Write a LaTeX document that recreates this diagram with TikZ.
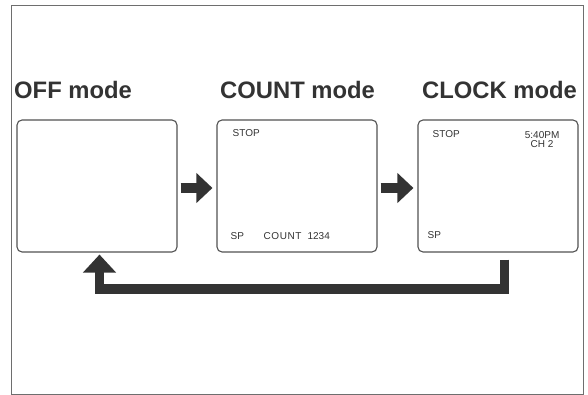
\documentclass[tikz,border=0pt]{standalone}
\usepackage{fontspec}
\setmainfont{Liberation Sans}
\usetikzlibrary{arrows.meta}
\definecolor{ink}{HTML}{333333}
\definecolor{framecol}{HTML}{6E6E6E}
\begin{document}
\begin{tikzpicture}[x=1pt,y=-1pt,
 modebox/.style={draw=ink!85, line width=1.1pt, rounded corners=5pt, minimum width=160pt, minimum height=132pt, inner sep=0pt},
 title/.style={anchor=base west, inner sep=0pt, font=\fontsize{23.8}{26}\selectfont\bfseries, text=ink},
 lcd/.style={anchor=base west, inner sep=0pt, font=\fontsize{10}{12}\selectfont, text=ink},
 bigarrow/.style={draw=ink, line width=10pt, -{Triangle[width=29pt,length=16pt]}},
 backarrow/.style={draw=ink, line width=9.5pt, line join=miter, -{Triangle[width=32pt,length=18pt]}},
]
\useasboundingbox (0,0) rectangle (588,395);
\fill[white] (0,0) rectangle (588,395);
\draw[framecol, line width=0.9pt] (11,5) rectangle (583,394);

% mode boxes
\node[modebox] (off) at (97,186) {};
\node[modebox] (count) at (297,186) {};
\node[modebox] (clock) at (498,186) {};

% titles
\node[title] (t1) at (14,99) {OFF mode};
\node[title] (t2) at (220,99) {COUNT mode};
\node[title] (t3) at (422,99) {CLOCK mode};

% forward arrows
\draw[bigarrow] ([shift={(3,2)}]off.east) -- ([shift={(-4,2)}]count.west);
\draw[bigarrow] ([shift={(3,2)}]count.east) -- ([shift={(-4,2)}]clock.west);

% return arrow
\coordinate (r1) at ([shift={(6.5,7)}]clock.south);
\coordinate (r4) at ([shift={(2.5,2)}]off.south);
\draw[backarrow] (r1) -- ++(0,29.5) -| (r4);

% box texts
\node[lcd] (s1) at ([shift={(16,17.5)}]count.north west) {STOP};
\node[lcd] (sp1) at ([shift={(14,-13.5)}]count.south west) {SP};
\node[lcd] (c1) at ([shift={(47,-13)}]count.south west) {{\addfontfeature{LetterSpace=6}COUNT}\hspace{6pt}1234};
\node[lcd] (s2) at ([shift={(15,18)}]clock.north west) {STOP};
\node[lcd, anchor=base east] (tm) at ([shift={(-19,19)}]clock.north east) {5:40PM};
\node[lcd, anchor=base] (ch) at ([shift={(0,9.5)}]tm.base) {CH 2};
\node[lcd] (sp2) at ([shift={(10,-14)}]clock.south west) {SP};
\end{tikzpicture}
\end{document}
